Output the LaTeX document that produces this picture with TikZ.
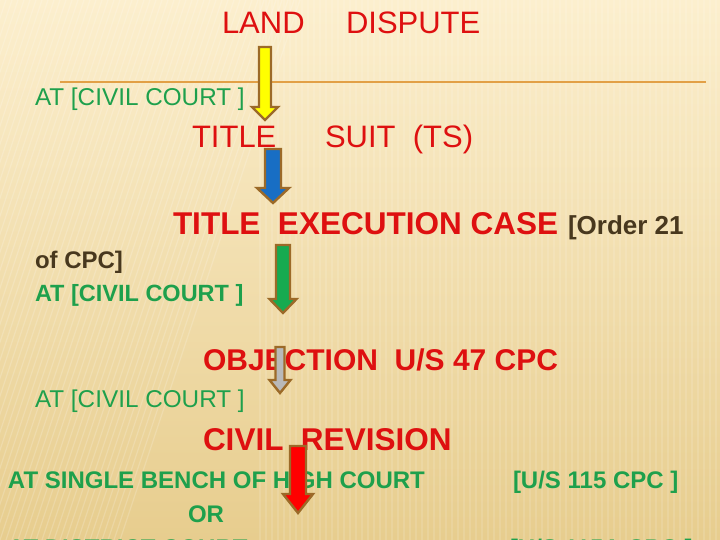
\documentclass[tikz,border=0pt]{standalone}
\usepackage{fontspec}
\setmainfont{Liberation Sans}
\definecolor{bgtop}{RGB}{252,239,206}
\definecolor{bgbot}{RGB}{231,205,142}
\definecolor{tred}{RGB}{222,16,16}
\definecolor{tgreen}{RGB}{30,160,76}
\definecolor{tbrown}{RGB}{72,56,30}
\definecolor{rule}{RGB}{226,160,70}
\definecolor{aborder}{RGB}{156,106,40}
\definecolor{ayellow}{RGB}{255,255,0}
\definecolor{ablue}{RGB}{24,110,196}
\definecolor{agreen}{RGB}{22,170,80}
\definecolor{agray}{RGB}{185,185,185}
\definecolor{ared}{RGB}{255,0,0}
\newcommand\blkarrow[8]{% name, fill, cx, top, headstart, tip, half shaft, half head
  \draw[arrowborder, fill=#2] (#3-#7,#4) coordinate (#1) -- (#3+#7,#4) -- (#3+#7,#5) -- (#3+#8,#5) -- (#3,#6) -- (#3-#8,#5) -- (#3-#7,#5) -- cycle;}
\tikzset{
  txt/.style={anchor=base west, inner sep=0pt, outer sep=0pt},
  redreg/.style={txt, text=tred, font=\fontsize{31}{31}\selectfont},
  redbold/.style={txt, text=tred, font=\fontsize{31.5}{31}\selectfont\bfseries},
  greenreg/.style={txt, text=tgreen, font=\fontsize{24.3}{24}\selectfont},
  greenbold/.style={txt, text=tgreen, font=\fontsize{23.5}{24}\selectfont\bfseries},
  brownbold/.style={txt, text=tbrown, font=\fontsize{24}{24}\selectfont\bfseries},
  arrowborder/.style={draw=aborder, line width=2.4pt, line join=miter},
}
\begin{document}
\begin{tikzpicture}[x=1pt,y=-1pt]
\useasboundingbox (0,0) rectangle (720,540);
\clip (0,0) rectangle (720,540);
% background
\shade[top color=bgtop, bottom color=bgbot] (0,0) rectangle (720,540);
\foreach \i in {0,6,...,300} {
  \draw[white, opacity=0.18, line width=1.2pt] (\i-180,540) -- (\i,0);
}
\foreach \i in {260,266,...,720} {
  \draw[white, opacity=0.12, line width=1.2pt] (\i,0) -- (\i,540);
}
% rule under title
\draw[rule, line width=2pt] (60,82) coordinate (r1) -- (706,82) coordinate (r2);
% texts
\node[redreg] (land) at (222,34) {LAND};
\node[redreg] (dispute) at (346,34) {DISPUTE};
\node[greenreg] (court1) at (35,106) {AT [CIVIL COURT ]};
\node[redreg] (title) at (192,148) {TITLE};
\node[redreg] (suit) at (325,148) {SUIT\ \ (TS)};
\node[redbold] (tec) at (173,235) {TITLE\ \ EXECUTION CASE};
\node[brownbold, font=\fontsize{26}{26}\selectfont\bfseries] (order) at (568,234) {[Order 21};
\node[brownbold] (ofcpc) at (35,268) {of CPC]};
\node[greenbold] (court2) at (35,301) {AT [CIVIL COURT ]};
\node[redbold, font=\fontsize{30}{30}\selectfont\bfseries] (obj) at (203,370) {OBJECTION\ \ U/S 47 CPC};
\node[greenreg] (court3) at (35,407) {AT [CIVIL COURT ]};
\node[redbold] (rev) at (203,450) {CIVIL\ \ REVISION};
\node[greenbold, font=\fontsize{24}{24}\selectfont\bfseries] (hc) at (8,488) {AT SINGLE BENCH OF HIGH COURT};
\node[greenbold, font=\fontsize{24}{24}\selectfont\bfseries] (us115) at (513,488) {[U/S 115 CPC ]};
\node[greenbold, font=\fontsize{24}{24}\selectfont\bfseries] (or) at (188,522) {OR};
\node[greenbold, font=\fontsize{24}{24}\selectfont\bfseries] (dc) at (8,556) {AT DISTRICT COURT};
\node[greenbold, font=\fontsize{24}{24}\selectfont\bfseries] (us115a) at (510,556) {[U/S 115A CPC ]};
% block arrows
\blkarrow{a1}{ayellow}{265}{47}{107}{120}{6}{13}
\blkarrow{a2}{ablue}{273}{149}{188}{203}{8}{16}
\blkarrow{a3}{agreen}{283}{245}{299}{313}{7}{13.5}
\blkarrow{a4}{agray}{280}{347}{380}{393}{4.5}{10.5}
\blkarrow{a5}{ared}{298}{446}{494}{513}{8}{15}
\end{tikzpicture}
\end{document}
